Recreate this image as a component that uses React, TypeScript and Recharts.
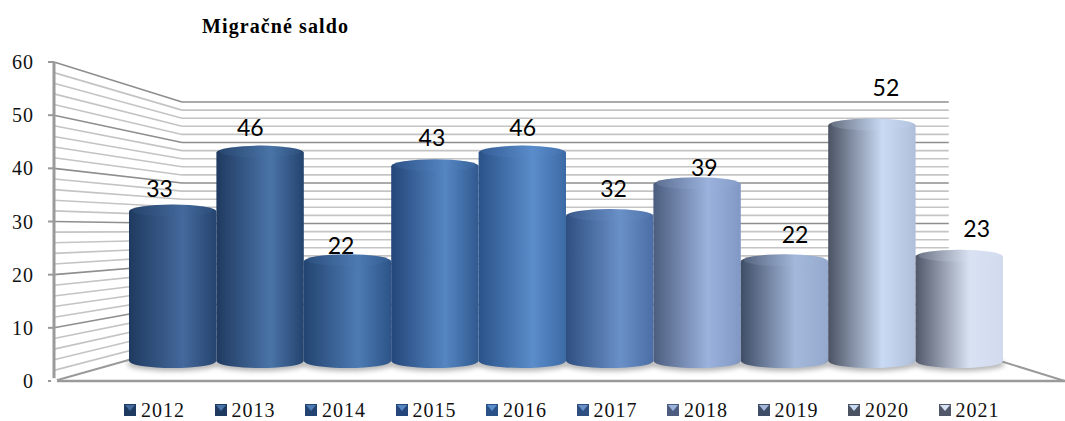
import React from 'react';
import { ComposedChart, Bar, Line, XAxis, YAxis, ReferenceLine, Legend } from 'recharts';

const years = ['2012', '2013', '2014', '2015', '2016', '2017', '2018', '2019', '2020', '2021'];
const saldo = [33, 46, 22, 43, 46, 32, 39, 22, 52, 23];
const axisTicks = [0, 10, 20, 30, 40, 50, 60];
const wallLevels = [2, 4, 6, 8, 10, 12, 14, 16, 18, 20, 22, 24, 26, 28, 30, 32, 34, 36, 38, 40, 42, 44, 46, 48, 50, 52, 54, 56, 58, 60];

const row: Record<string, string | number> = { name: 'Migračné saldo', wallX: 0, wallY: 0 };
years.forEach((y, i) => { row[y] = saldo[i]; });
const chartData = [row];

// shading of each cylinder: left edge, highlight, right edge
const shades = [
  ['#1f3a60', '#44699c', '#25446f'],
  ['#1f3a60', '#4a74a8', '#24436e'],
  ['#234470', '#4d7bb3', '#2c5488'],
  ['#24467a', '#5586c2', '#30598f'],
  ['#2a5288', '#5b8dcb', '#3c6aa5'],
  ['#2f4f80', '#6a90c8', '#4a6ea5'],
  ['#4c5d7f', '#9ab2dc', '#8198c4'],
  ['#3f4d66', '#a3b8da', '#94a9cd'],
  ['#4b5363', '#c9daf4', '#b0bfd9'],
  ['#50586a', '#d9e2f3', '#d2dbee'],
];
const labelNudgeY = [-22, -25, -15, -28, -25, -27, -16, -26, -37, -28];
const wallBackX = 0.1266;
const wallRightX = 0.885;
const wallBase = 6.77;
const wallRatio = 0.7617;
const floorDepth = 7;
const barSpread = 0.4;

const onBack = (v: number) => wallBase + wallRatio * v;
const serif = '"Liberation Serif", serif';

const Cylinder = (props: any) => {
  const { y, height, seriesIndex } = props;
  const x = props.x + seriesIndex * barSpread;
  const width = props.width + barSpread;
  const s = shades[seriesIndex];
  const id = `cyl-${seriesIndex}`;
  const cx = x + width / 2;
  const rx = width / 2;
  const base = y + height;
  return (
    <g>
      <defs>
        <linearGradient id={id} x1="0" x2="1" y1="0" y2="0">
          <stop offset="0" stopColor={s[0]} />
          <stop offset="0.62" stopColor={s[1]} />
          <stop offset="1" stopColor={s[2]} />
        </linearGradient>
        <filter id="soft" x="-20%" y="-60%" width="140%" height="220%">
          <feGaussianBlur stdDeviation="2.5" />
        </filter>
      </defs>
      <ellipse cx={cx} cy={base + 3} rx={rx + 2} ry={floorDepth} fill="#777" opacity={0.55} filter="url(#soft)" />
      <path
        d={`M${x},${y} V${base} A${rx},${floorDepth} 0 0 0 ${x + width},${base} V${y} Z`}
        fill={`url(#${id})`}
      />
      <ellipse cx={cx} cy={y} rx={rx} ry={floorDepth} fill={`url(#${id})`} />
      <ellipse cx={cx} cy={y - 1} rx={rx - 3} ry={floorDepth - 1} fill={s[1]} opacity={0.18} />
    </g>
  );
};

const BarLabel = (props: any) => {
  const { x, y, width, value, seriesIndex } = props;
  const cx = x + width / 2 - 13 + (3.4 + barSpread) * seriesIndex;
  return (
    <text
      x={cx}
      y={y + labelNudgeY[seriesIndex] + 8}
      textAnchor="middle"
      fontFamily="Lato, sans-serif"
      fontSize={23}
      fill="#000"
    >
      {value}
    </text>
  );
};

const LegendRow = () => (
  <div style={{ position: 'relative', height: 0 }}>
    {years.map((year, i) => (
      <div
        key={year}
        style={{
          position: 'absolute',
          left: 124 + i * 90.5,
          top: 398,
          display: 'flex',
          alignItems: 'center',
          fontFamily: serif,
          fontSize: 20,
          letterSpacing: 1,
          lineHeight: '24px',
          color: '#111',
        }}
      >
        <svg width={12} height={12} style={{ marginRight: 5 }}>
          <rect width={12} height={12} fill={shades[i][0]} />
          <polygon points="1,1 11,1 6,7" fill={shades[i][1]} />
        </svg>
        {year}
      </div>
    ))}
  </div>
);

const wallZ = 100;
const axisGray = '#9a9a9a';

export default function App() {
  return (
    <div style={{ position: 'absolute', left: 0, top: 0, width: 1065, height: 421, background: '#fff' }}>
      <ComposedChart
        width={1065}
        height={421}
        data={chartData}
        margin={{ top: 62, right: 0, bottom: 40, left: 0 }}
        barCategoryGap={0}
        barGap={0}
      >
        <text x={202} y={33} fontFamily={serif} fontWeight="bold" fontSize={20} letterSpacing={1.1} fill="#000">
          Migračné saldo
        </text>
        <XAxis xAxisId="bars" dataKey="name" hide padding={{ left: 75, right: 62 }} />
        <XAxis xAxisId="wall" dataKey="wallX" type="number" domain={[0, 1]} hide />
        <YAxis
          yAxisId="front"
          width={54}
          domain={[0, 60]}
          ticks={axisTicks}
          interval={0}
          tickSize={6}
          tickMargin={14}
          axisLine={{ stroke: axisGray, strokeWidth: 3 }}
          tickLine={{ stroke: axisGray, strokeWidth: 2 }}
          tick={{ fontFamily: serif, fontSize: 20, fill: '#111', letterSpacing: 1 }}
        />
        <YAxis yAxisId="bars" orientation="right" width={0} hide domain={[-4.42, 66]} allowDataOverflow />

        <Line
          xAxisId="wall"
          yAxisId="front"
          dataKey="wallY"
          stroke="none"
          dot={false}
          legendType="none"
          isAnimationActive={false}
        />

        {wallLevels.map((v) => {
          const major = v % 10 === 0;
          const stroke = major ? '#8e8e8e' : '#c4c4c4';
          return (
            <React.Fragment key={v}>
              <ReferenceLine
                xAxisId="wall"
                yAxisId="front"
                ifOverflow="visible"
                stroke={stroke}
                strokeWidth={1.6}
                zIndex={wallZ}
                segment={[{ x: 0, y: v }, { x: wallBackX, y: onBack(v) }]}
              />
              <ReferenceLine
                xAxisId="wall"
                yAxisId="front"
                ifOverflow="visible"
                stroke={stroke}
                strokeWidth={1.6}
                zIndex={wallZ}
                segment={[{ x: wallBackX, y: onBack(v) }, { x: wallRightX, y: onBack(v) }]}
              />
            </React.Fragment>
          );
        })}
        <ReferenceLine xAxisId="wall" yAxisId="front" ifOverflow="visible" stroke={axisGray} strokeWidth={2} zIndex={wallZ}
          segment={[{ x: 0, y: 0 }, { x: wallBackX, y: onBack(0) }]} />
        <ReferenceLine xAxisId="wall" yAxisId="front" ifOverflow="visible" stroke={axisGray} strokeWidth={2} zIndex={wallZ}
          segment={[{ x: wallRightX, y: onBack(0) }, { x: 1, y: 0 }]} />
        <ReferenceLine xAxisId="wall" yAxisId="front" ifOverflow="visible" stroke={axisGray} strokeWidth={2.5} zIndex={wallZ}
          segment={[{ x: 0, y: 0 }, { x: 1, y: 0 }]} />

        {years.map((y, i) => (
          <Bar
            key={y}
            dataKey={y}
            xAxisId="bars"
            yAxisId="bars"
            isAnimationActive={false}
            fill={shades[i][1]}
            shape={(p: any) => <Cylinder {...p} seriesIndex={i} />}
            label={(p: any) => <BarLabel {...p} seriesIndex={i} />}
          />
        ))}
        <Legend content={<LegendRow />} wrapperStyle={{ left: 0, top: 0, width: 1065 }} />
      </ComposedChart>
    </div>
  );
}
